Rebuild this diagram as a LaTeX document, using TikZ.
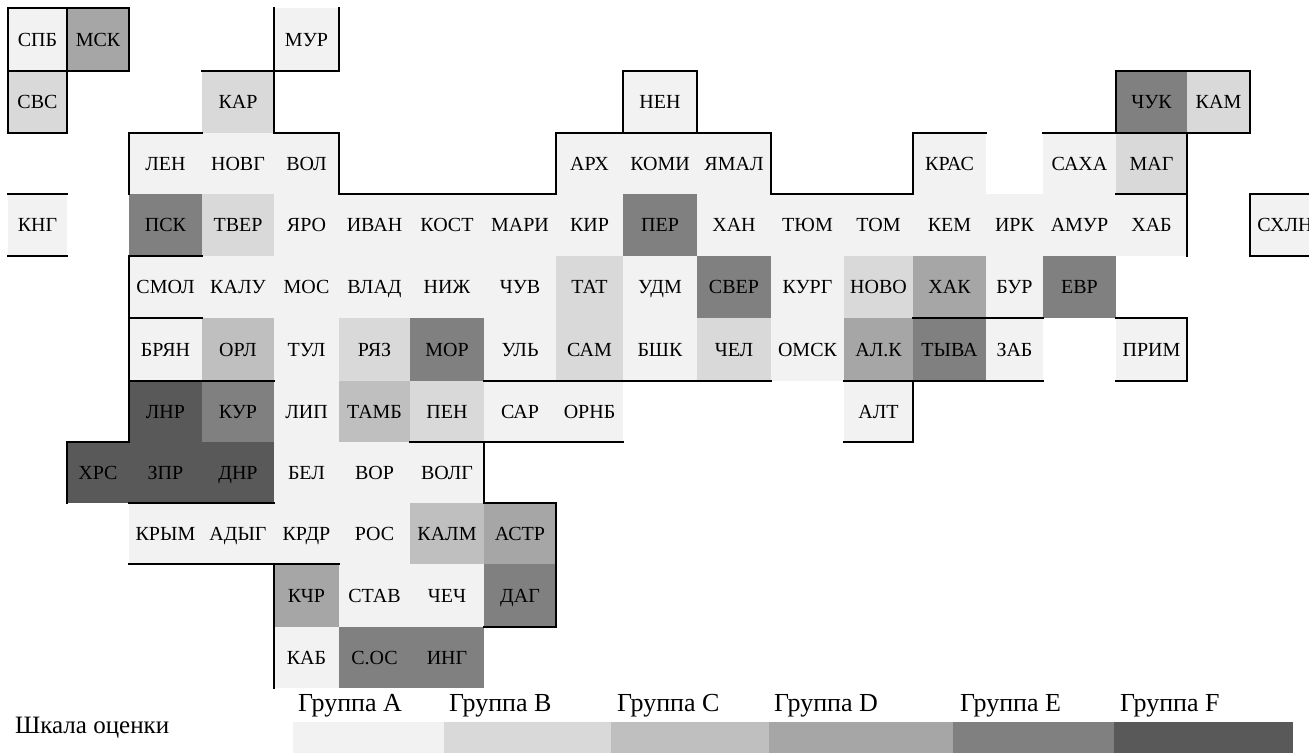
\documentclass[tikz,border=0pt]{standalone}
\usepackage{fontspec}
\setmainfont{Liberation Serif}
\definecolor{grpA}{HTML}{F2F2F2}
\definecolor{grpB}{HTML}{D9D9D9}
\definecolor{grpC}{HTML}{BFBFBF}
\definecolor{grpD}{HTML}{A6A6A6}
\definecolor{grpE}{HTML}{808080}
\definecolor{grpF}{HTML}{595959}
\newcommand\XS[1]{\pgfmathparse{{8,67,129,202,274,339,410,484,556,623,697,771,844,913,986,1043,1116,1187,1250,1320}[#1]}\pgfmathresult}
\newcommand\YS[1]{\pgfmathparse{{8,71,133,194,256,318,381,442,503,564,627,688}[#1]}\pgfmathresult}
\tikzset{
  celltext/.style={inner sep=0pt,text height=13.5pt,text depth=0pt,font=\fontsize{20}{24}\selectfont},
  legtext/.style={inner sep=0pt,anchor=base west,font=\fontsize{26}{30}\selectfont},
  bord/.style={black,line width=1.7pt,line cap=rect}
}
\newcommand\cel[4]{%
  \pgfmathsetmacro\xa{{8,67,129,202,274,339,410,484,556,623,697,771,844,913,986,1043,1116,1187,1250,1320}[#1]}%
  \pgfmathsetmacro\xb{{8,67,129,202,274,339,410,484,556,623,697,771,844,913,986,1043,1116,1187,1250,1320}[#1+1]}%
  \pgfmathsetmacro\ya{{8,71,133,194,256,318,381,442,503,564,627,688}[#2]}%
  \pgfmathsetmacro\yb{{8,71,133,194,256,318,381,442,503,564,627,688}[#2+1]}%
  \fill[grp#4] (\xa,\ya) rectangle (\xb,\yb);
  \node[celltext] (c#1r#2) at ({(\xa+\xb)/2},{(\ya+\yb)/2}) {#3};
}
\newcommand\hl[3]{% row line, from col boundary to col boundary
  \pgfmathsetmacro\xa{{8,67,129,202,274,339,410,484,556,623,697,771,844,913,986,1043,1116,1187,1250,1320}[#2]}%
  \pgfmathsetmacro\xb{{8,67,129,202,274,339,410,484,556,623,697,771,844,913,986,1043,1116,1187,1250,1320}[#3]}%
  \pgfmathsetmacro\ya{{8,71,133,194,256,318,381,442,503,564,627,688}[#1]}%
  \draw[bord] (\xa,\ya) -- (\xb,\ya);
}
\newcommand\vl[3]{%
  \pgfmathsetmacro\xa{{8,67,129,202,274,339,410,484,556,623,697,771,844,913,986,1043,1116,1187,1250,1320}[#1]}%
  \pgfmathsetmacro\ya{{8,71,133,194,256,318,381,442,503,564,627,688}[#2]}%
  \pgfmathsetmacro\yb{{8,71,133,194,256,318,381,442,503,564,627,688}[#3]}%
  \draw[bord] (\xa,\ya) -- (\xa,\yb);
}
\begin{document}
\begin{tikzpicture}[x=1pt,y=-1pt]
\useasboundingbox (0,0) rectangle (1309,753);
\clip (0,0) rectangle (1309,753);
\fill[white] (0,0) rectangle (1309,753);
% row 0
\cel{0}{0}{СПБ}{A}\cel{1}{0}{МСК}{D}\cel{4}{0}{МУР}{A}
% row 1
\cel{0}{1}{СВС}{B}\cel{3}{1}{КАР}{B}\cel{9}{1}{НЕН}{A}\cel{16}{1}{ЧУК}{E}\cel{17}{1}{КАМ}{B}
% row 2
\cel{2}{2}{ЛЕН}{A}\cel{3}{2}{НОВГ}{A}\cel{4}{2}{ВОЛ}{A}\cel{8}{2}{АРХ}{A}\cel{9}{2}{КОМИ}{A}\cel{10}{2}{ЯМАЛ}{A}\cel{13}{2}{КРАС}{A}\cel{15}{2}{САХА}{A}\cel{16}{2}{МАГ}{B}
% row 3
\cel{0}{3}{КНГ}{A}\cel{2}{3}{ПСК}{E}\cel{3}{3}{ТВЕР}{B}\cel{4}{3}{ЯРО}{A}\cel{5}{3}{ИВАН}{A}\cel{6}{3}{КОСТ}{A}\cel{7}{3}{МАРИ}{A}\cel{8}{3}{КИР}{A}\cel{9}{3}{ПЕР}{E}\cel{10}{3}{ХАН}{A}\cel{11}{3}{ТЮМ}{A}\cel{12}{3}{ТОМ}{A}\cel{13}{3}{КЕМ}{A}\cel{14}{3}{ИРК}{A}\cel{15}{3}{АМУР}{A}\cel{16}{3}{ХАБ}{A}\cel{18}{3}{СХЛН}{A}
% row 4
\cel{2}{4}{СМОЛ}{A}\cel{3}{4}{КАЛУ}{A}\cel{4}{4}{МОС}{A}\cel{5}{4}{ВЛАД}{A}\cel{6}{4}{НИЖ}{A}\cel{7}{4}{ЧУВ}{A}\cel{8}{4}{ТАТ}{B}\cel{9}{4}{УДМ}{A}\cel{10}{4}{СВЕР}{E}\cel{11}{4}{КУРГ}{A}\cel{12}{4}{НОВО}{B}\cel{13}{4}{ХАК}{D}\cel{14}{4}{БУР}{A}\cel{15}{4}{ЕВР}{E}
% row 5
\cel{2}{5}{БРЯН}{A}\cel{3}{5}{ОРЛ}{C}\cel{4}{5}{ТУЛ}{A}\cel{5}{5}{РЯЗ}{B}\cel{6}{5}{МОР}{E}\cel{7}{5}{УЛЬ}{A}\cel{8}{5}{САМ}{B}\cel{9}{5}{БШК}{A}\cel{10}{5}{ЧЕЛ}{B}\cel{11}{5}{ОМСК}{A}\cel{12}{5}{АЛ.К}{D}\cel{13}{5}{ТЫВА}{E}\cel{14}{5}{ЗАБ}{A}\cel{16}{5}{ПРИМ}{A}
% row 6
\cel{2}{6}{ЛНР}{F}\cel{3}{6}{КУР}{E}\cel{4}{6}{ЛИП}{A}\cel{5}{6}{ТАМБ}{C}\cel{6}{6}{ПЕН}{B}\cel{7}{6}{САР}{A}\cel{8}{6}{ОРНБ}{A}\cel{12}{6}{АЛТ}{A}
% row 7
\cel{1}{7}{ХРС}{F}\cel{2}{7}{ЗПР}{F}\cel{3}{7}{ДНР}{F}\cel{4}{7}{БЕЛ}{A}\cel{5}{7}{ВОР}{A}\cel{6}{7}{ВОЛГ}{A}
% row 8
\cel{2}{8}{КРЫМ}{A}\cel{3}{8}{АДЫГ}{A}\cel{4}{8}{КРДР}{A}\cel{5}{8}{РОС}{A}\cel{6}{8}{КАЛМ}{C}\cel{7}{8}{АСТР}{D}
% row 9
\cel{4}{9}{КЧР}{D}\cel{5}{9}{СТАВ}{A}\cel{6}{9}{ЧЕЧ}{A}\cel{7}{9}{ДАГ}{E}
% row 10
\cel{4}{10}{КАБ}{A}\cel{5}{10}{С.ОС}{E}\cel{6}{10}{ИНГ}{E}
% borders: horizontal
\hl{0}{0}{2}\hl{1}{0}{2}\hl{2}{0}{1}
\hl{1}{3}{5}\hl{1}{9}{10}\hl{1}{16}{18}
\hl{2}{2}{3}\hl{2}{4}{5}\hl{2}{8}{11}\hl{2}{13}{14}\hl{2}{15}{18}
\hl{3}{0}{1}\hl{3}{5}{8}\hl{3}{11}{13}\hl{3}{16}{17}\hl{3}{18}{19}
\hl{4}{0}{1}\hl{4}{2}{3}\hl{4}{18}{19}
\hl{5}{2}{3}\hl{5}{13}{15}\hl{5}{16}{17}
\hl{6}{2}{4}\hl{6}{7}{11}\hl{6}{12}{15}\hl{6}{16}{17}
\hl{7}{1}{2}\hl{7}{6}{9}\hl{7}{12}{13}
\hl{8}{2}{4}\hl{8}{7}{8}
\hl{9}{2}{5}
\hl{10}{7}{8}
% borders: vertical
\vl{0}{0}{2}\vl{1}{0}{2}\vl{2}{0}{1}
\vl{4}{0}{2}\vl{5}{0}{1}
\vl{9}{1}{2}\vl{10}{1}{2}
\vl{16}{1}{2}\vl{18}{1}{2}
\vl{2}{2}{3}\vl{5}{2}{3}\vl{8}{2}{3}\vl{11}{2}{3}\vl{13}{2}{3}
\vl{17}{2}{4}
\vl{18}{3}{4}
\vl{2}{4}{7}\vl{1}{7}{8}
\vl{7}{7}{8}\vl{8}{8}{10}
\vl{4}{9}{11}
\vl{13}{6}{7}\vl{17}{5}{6}
% legend
\fill[grpA] (292.5,722) rectangle (444,753);
\fill[grpB] (444,722) rectangle (611,753);
\fill[grpC] (611,722) rectangle (769,753);
\fill[grpD] (769,722) rectangle (953,753);
\fill[grpE] (953,722) rectangle (1114,753);
\fill[grpF] (1114,722) rectangle (1293,753);
\node[legtext] (legA) at (298,711) {Группа A};
\node[legtext] (legB) at (449,711) {Группа B};
\node[legtext] (legC) at (617,711) {Группа C};
\node[legtext] (legD) at (774,711) {Группа D};
\node[legtext] (legE) at (960,711) {Группа E};
\node[legtext] (legF) at (1120,711) {Группа F};
\node[legtext,font=\fontsize{25}{30}\selectfont] (scale) at (15,733) {Шкала оценки};
\end{tikzpicture}
\end{document}
